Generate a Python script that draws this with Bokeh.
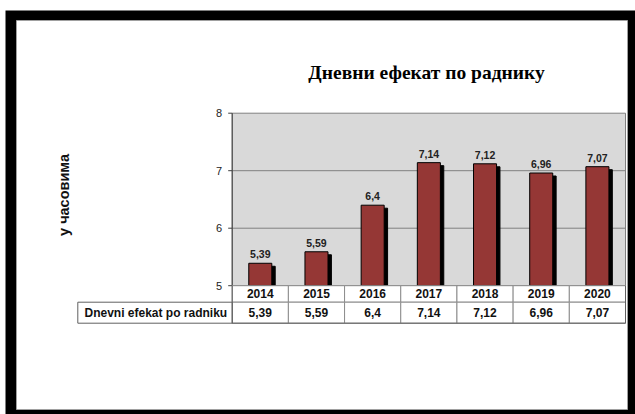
import math
from bokeh.plotting import figure
from bokeh.models import ColumnDataSource, Range1d
from bokeh.transform import dodge
from bokeh.core.properties import value
from bokeh.embed import file_html
from bokeh.resources import INLINE

# ---- data ----
years = ["2014", "2015", "2016", "2017", "2018", "2019", "2020"]
values = [5.39, 5.59, 6.4, 7.14, 7.12, 6.96, 7.07]
value_labels = ["5,39", "5,59", "6,4", "7,14", "7,12", "6,96", "7,07"]
y_ticks = [5, 6, 7, 8]
y_tick_labels = ["5", "6", "7", "8"]
title_text = "Дневни ефекат по раднику"
y_label = "у часовима"
row_label = "Dnevni efekat po radniku"

# ---- layout (pixels) ----
W, H = 635, 414
GL, GT, GR, GB = 231.7, 112.7, 625, 285.2   # grey plotting area
N = len(years)
Y0, Y1 = y_ticks[0], y_ticks[-1]
XPX = (GR - GL) / N
YPX = (GB - GT) / (Y1 - Y0)
x_left, x_right = -0.5, N - 0.5


def px_x(px):
    return x_left + (px - GL) / XPX


def px_y(py):
    return Y1 - (py - GT) / YPX


ROW1_PX, ROW2_PX = 16.5, 37.5
LABEL_CELL_LEFT = 77.3
BAR_W = 0.41
BAR_COLOR = "#953735"
FONT = "Liberation Sans"
SERIF = "Liberation Serif"
LINE = "#808080"

p = figure(width=W, height=H, output_backend="svg", toolbar_location=None,
           x_range=Range1d(px_x(0), px_x(W)), y_range=Range1d(px_y(H), px_y(0)),
           min_border=0, min_border_left=0, min_border_right=0, min_border_top=0,
           min_border_bottom=0, background_fill_color="white",
           border_fill_color="white", outline_line_color=None)
p.axis.visible = False
p.grid.visible = False

# page frame: black border around a white panel
p.quad(left=[px_x(5)], right=[px_x(W + 2)], top=[px_y(10)], bottom=[px_y(H + 2)],
       fill_color="black", line_color=None)
p.quad(left=[px_x(16)], right=[px_x(627)], top=[px_y(20)], bottom=[px_y(409)],
       fill_color="white", line_color="#a0a0a0", line_width=1)

idx = list(range(N))
src = ColumnDataSource(dict(x=idx, val=values, lbl=value_labels, yr=years))

# grey plotting area with grid
p.quad(left=[x_left], right=[x_right], bottom=[Y0], top=[Y1],
       fill_color="#d9d9d9", line_color=LINE, line_width=1)
grid_y = y_ticks[1:-1]
p.segment(x0=[x_left] * len(grid_y), x1=[x_right] * len(grid_y), y0=grid_y, y1=grid_y,
          line_color=LINE, line_width=1)

# y axis: line, ticks, labels
p.segment(x0=[x_left], x1=[x_left], y0=[Y0], y1=[Y1], line_color="#404040", line_width=1)
p.segment(x0=[x_left - 4 / XPX] * len(y_ticks), x1=[x_left] * len(y_ticks),
          y0=y_ticks, y1=y_ticks, line_color="#404040", line_width=1)
p.text(x=[x_left] * len(y_ticks), y=y_ticks, text=y_tick_labels, x_offset=-10,
       text_align="right", text_baseline="middle", text_font=value(FONT),
       text_font_size="11px", text_color="#222222")

# bars with shadow
p.vbar(x=dodge("x", 3.4 / XPX), top=dodge("val", -3 / YPX), bottom=Y0, width=BAR_W,
       source=src, fill_color="black", line_color="black")
p.vbar(x="x", top="val", bottom=Y0, width=BAR_W, source=src,
       fill_color=BAR_COLOR, line_color="black", line_width=1)

# data labels
p.text(x="x", y="val", text="lbl", source=src, y_offset=-9, text_align="center",
       text_baseline="alphabetic", text_font=value(FONT), text_font_size="10.5px",
       text_font_style="bold", text_color="#222222")

# data table under the chart
y_r1 = Y0 - ROW1_PX / YPX
y_r2 = Y0 - ROW2_PX / YPX
p.quad(left=[i - 0.5 for i in idx], right=[i + 0.5 for i in idx], top=[Y0] * N,
       bottom=[y_r1] * N, fill_color="white", line_color="#8c8c8c", line_width=1)
p.quad(left=[i - 0.5 for i in idx], right=[i + 0.5 for i in idx], top=[y_r1] * N,
       bottom=[y_r2] * N, fill_color="white", line_color="#8c8c8c", line_width=1)
p.quad(left=[px_x(LABEL_CELL_LEFT)], right=[x_left], top=[y_r1], bottom=[y_r2],
       fill_color="white", line_color="#606060", line_width=1)
p.segment(x0=[x_left, x_right], x1=[x_left, x_right], y0=[Y0, Y0], y1=[y_r2, y_r2],
          line_color="#606060", line_width=1)
p.segment(x0=[x_left], x1=[x_right], y0=[y_r2], y1=[y_r2], line_color="#606060",
          line_width=1)

p.text(x="x", y=(Y0 + y_r1) / 2, text="yr", source=src, text_align="center",
       text_baseline="middle", text_font=value(FONT), text_font_size="12px",
       text_font_style="bold", text_color="#111111")
p.text(x="x", y=(y_r1 + y_r2) / 2, text="lbl", source=src, text_align="center",
       text_baseline="middle", text_font=value(FONT), text_font_size="12px",
       text_font_style="bold", text_color="#111111")
p.text(x=[x_left], y=[(y_r1 + y_r2) / 2], text=[row_label], x_offset=-5,
       text_align="right", text_baseline="middle", text_font=value(FONT),
       text_font_size="12px", text_font_style="bold", text_color="#111111")

# chart title and axis title
p.text(x=[px_x(426)], y=[px_y(72)], text=[title_text],
       text_align="center", text_baseline="alphabetic", text_font=value(SERIF),
       text_font_size="19.5px", text_font_style="bold", text_color="black")
p.text(x=[px_x(63.5)], y=[px_y(194.5)], text=[y_label],
       angle=math.pi / 2, text_align="center", text_baseline="middle",
       text_font=value(FONT), text_font_size="14.5px", text_font_style="bold",
       text_color="#111111")

open("out.html", "w").write(file_html(p, INLINE))
